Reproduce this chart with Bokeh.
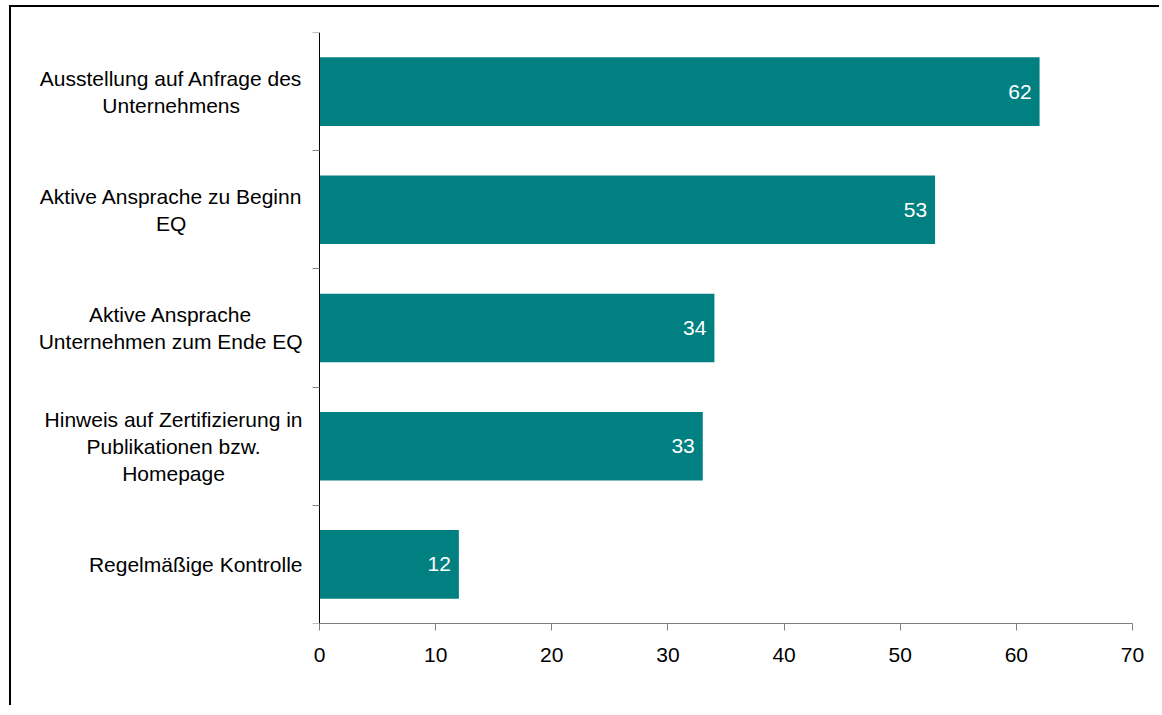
from bokeh.plotting import figure
from bokeh.models import ColumnDataSource, FixedTicker, Range1d, LinearAxis
from bokeh.core.properties import value
from bokeh.embed import file_html
from bokeh.resources import INLINE

# ---- data ----
categories = [
    "Ausstellung auf Anfrage des\nUnternehmens",
    "Aktive Ansprache zu Beginn\nEQ",
    "Aktive Ansprache\nUnternehmen zum Ende EQ",
    "Hinweis auf Zertifizierung in\nPublikationen bzw.\nHomepage",
    "Regelmäßige Kontrolle",
]
values = [62, 53, 34, 33, 12]
x_ticks = [0, 10, 20, 30, 40, 50, 60, 70]

FONT = "Liberation Sans"
FS = 21

# approximate Liberation Sans advance widths (units per 1000), used to centre label blocks
W = {'a': 556, 'b': 556, 'c': 500, 'd': 556, 'e': 556, 'f': 278, 'g': 556, 'h': 556,
     'i': 222, 'j': 222, 'k': 500, 'l': 222, 'm': 833, 'n': 556, 'o': 556, 'p': 556,
     'q': 556, 'r': 333, 's': 500, 't': 278, 'u': 556, 'v': 500, 'w': 722, 'x': 500,
     'y': 500, 'z': 500, 'ä': 556, 'ß': 611, ' ': 278, '.': 278, 'A': 667, 'B': 667,
     'E': 667, 'H': 722, 'K': 667, 'P': 667, 'Q': 778, 'R': 722, 'U': 722, 'Z': 611}


def text_width(s):
    return max(sum(W.get(ch, 556) for ch in line) for line in s.split("\n")) / 1000.0 * FS


# layout (pixels on the canvas): frame starts at canvas left; value axis 0 at 308px, 70 at 1121px
AX0, AX70 = 308.0, 1121.0
ppu = (AX70 - AX0) / (x_ticks[-1] - x_ticks[0])
x_start = -AX0 / ppu

n = len(categories)
ys = [n - 1 - i + 0.5 for i in range(n)]
boundaries = list(range(n + 1))
src = ColumnDataSource(dict(
    y=ys,
    v=values,
    lbl=[str(v) for v in values],
    cat=categories,
    x0=[0] * n,
    xo=[-17 - text_width(c) / 2.0 for c in categories],
))

p = figure(width=1150, height=700, output_backend="svg", toolbar_location=None,
           x_range=Range1d(x_start, x_ticks[-1]), y_range=Range1d(0, n),
           y_axis_location=None,
           min_border_left=0, min_border_right=29, min_border_top=25, min_border_bottom=84)
p.styles = {"border-top": "2px solid black", "border-left": "2px solid black",
            "margin-top": "5px", "margin-left": "9px"}
p.outline_line_color = None
p.xgrid.grid_line_color = None
p.ygrid.grid_line_color = None
p.background_fill_color = "white"
p.border_fill_color = "white"

p.hbar(y="y", left=0, right="v", height=0.58, source=src,
       fill_color="#008080", line_color=None)

p.text(x="v", y="y", text="lbl", source=src, x_offset=-8,
       text_align="right", text_baseline="middle", text_color="white",
       text_font=value(FONT), text_font_size=f"{FS}px")

# category labels: centred blocks, right edge ~17px left of the category axis
p.text(x="x0", y="y", text="cat", source=src, x_offset="xo",
       text_align="center", text_baseline="middle", text_color="black",
       text_font=value(FONT), text_font_size=f"{FS}px", text_line_height=1.18)

# x axis limited to 0..70
xa = p.xaxis[0]
xa.ticker = FixedTicker(ticks=x_ticks)
xa.bounds = (x_ticks[0], x_ticks[-1])
xa.axis_line_color = "#808080"
xa.major_tick_line_color = "#808080"
xa.major_tick_out = 7
xa.major_tick_in = 0
xa.minor_tick_line_color = None
xa.major_label_text_font = FONT
xa.major_label_text_font_size = f"{FS}px"
xa.major_label_text_color = "black"
xa.major_label_standoff = 17

# category axis drawn at x = 0, ticks at category boundaries pointing left
ya = LinearAxis(fixed_location=0,
                ticker=FixedTicker(ticks=[], minor_ticks=boundaries),
                axis_line_color="black",
                major_tick_line_color=None,
                minor_tick_line_color="#808080",
                minor_tick_out=0, minor_tick_in=7,
                major_label_text_font_size=f"{FS}px")
p.add_layout(ya, "right")

open("out.html", "w").write(file_html(p, INLINE))
